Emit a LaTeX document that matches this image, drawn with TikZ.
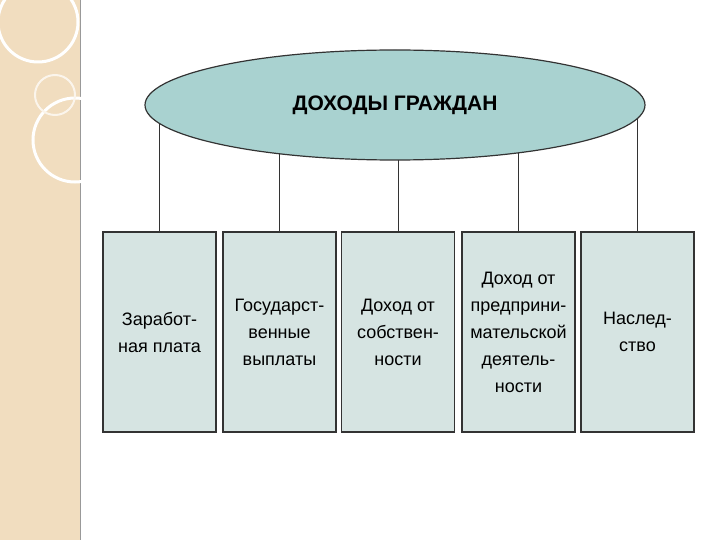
\documentclass[tikz,border=0pt]{standalone}
\usepackage{fontspec}
\setmainfont{Liberation Sans}
\usetikzlibrary{shapes.geometric}
\definecolor{strip}{HTML}{F1DDBF}
\definecolor{ovalfill}{HTML}{A9D2D0}
\definecolor{boxfill}{HTML}{D6E4E2}
\tikzset{
  incomebox/.style={draw=black!80, line width=1.2pt, fill=boxfill, minimum width=113pt,
    minimum height=200pt, align=center, font=\fontsize{18}{27}\selectfont, inner sep=2pt},
  link/.style={line width=1pt, black!80}
}
\begin{document}
\begin{tikzpicture}[x=1pt,y=-1pt]

\useasboundingbox(0,0) rectangle (720,540);
\clip(0,0) rectangle (720,540);

\fill[white](0,0) rectangle (720,540); %% page
\fill[strip](0,0) rectangle (80,540);
\draw[black!40, line width=0.6pt](80,0)--(80,540);
\draw[white, line width=3pt](38,22) circle (40);
\draw[white, line width=3pt](75,140) circle (42);
\draw[white!70!strip, line width=2pt](55,95) circle (20);

\node[incomebox] (wage) at (159.5,332) {Заработ-\\ная плата};
\node[incomebox] (state) at (279.5,332) {Государст-\\венные\\выплаты};
\node[incomebox] (property) at (398,332) {Доход от\\собствен-\\ности};
\node[incomebox] (business) at (518.5,332) {Доход от\\предприни-\\мательской\\деятель-\\ности};
\node[incomebox] (legacy) at (637.5,332) {Наслед-\\ство};

\coordinate (linetop) at (395,110);
\foreach \b in {wage,state,property,business,legacy}
  \draw[link](linetop -| \b.north) -- (\b.north);

\node[ellipse, draw=black!80, line width=1.2pt, fill=ovalfill, minimum width=500pt,
  minimum height=110pt, font=\fontsize{21}{24}\selectfont\bfseries]
  (incomes) at (395,105) {ДОХОДЫ ГРАЖДАН};

\end{tikzpicture}
\end{document}
